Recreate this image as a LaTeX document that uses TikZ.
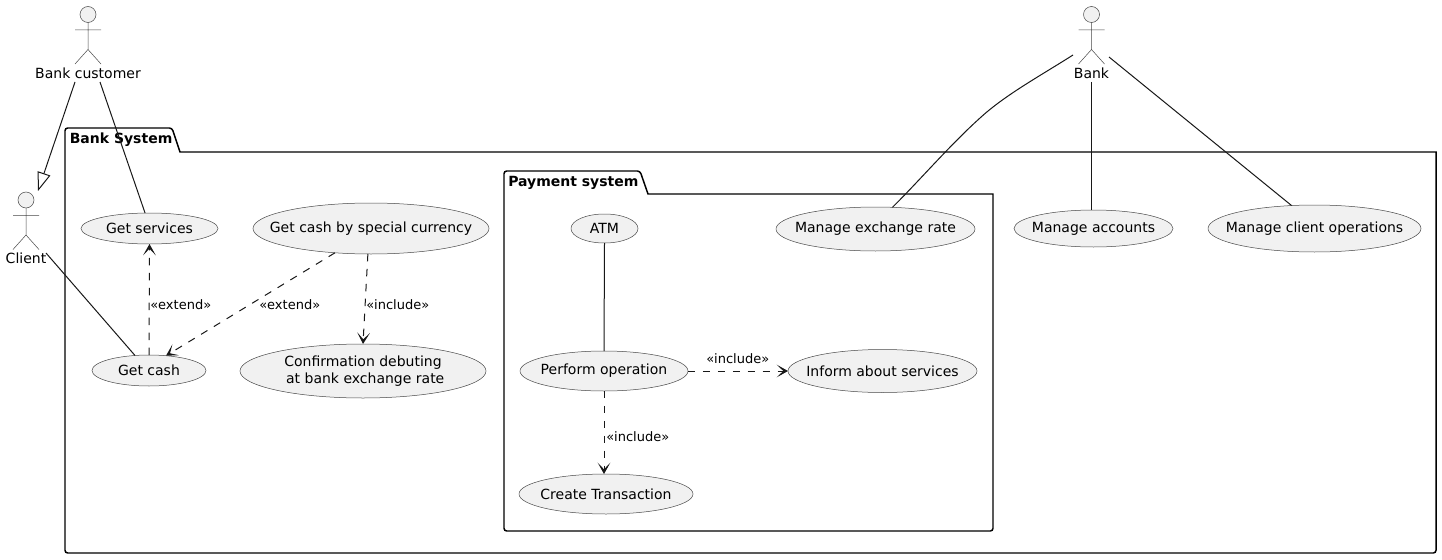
\documentclass[tikz,border=0pt]{standalone}
\usepackage{fontspec}
\setmainfont{DejaVu Sans}
\usetikzlibrary{shapes.geometric,arrows.meta}
\definecolor{ink}{HTML}{181818}
\definecolor{thinink}{HTML}{484848}
\definecolor{ufill}{HTML}{F1F1F1}
\tikzset{
  x=0.75pt,y=-0.75pt,
  ucase/.style 2 args={ellipse,draw=thinink,fill=ufill,line width=0.375pt,inner sep=-30pt,outer sep=0pt,
    minimum width=0.75pt*#1,minimum height=0.75pt*#2,align=center,
    font=\fontsize{10.5}{12.6}\selectfont,text=black},
  pkg/.style={draw=black,line width=1.1pt,fill=white},
  pkgname/.style={font=\fontsize{10.5}{12.3}\selectfont\bfseries,text=black,anchor=west,inner sep=0pt},
  actorname/.style={font=\fontsize{10.5}{12.3}\selectfont,text=black,inner sep=0pt},
  linktext/.style={font=\fontsize{9.75}{12}\selectfont,text=black,anchor=west,inner sep=0pt},
  actorhead/.style={circle,draw=thinink,fill=ufill,line width=0.375pt,inner sep=0pt,minimum size=12pt},
  actorbody/.style={draw=thinink,line width=0.375pt},
  link/.style={draw=ink,line width=0.75pt},
  dep/.style={link,dash pattern=on 5.6pt off 5.6pt,-{Stealth[length=8.5pt,width=9.5pt,inset=5pt]}},
  gen/.style={link,-{Triangle[open,length=14pt,width=10pt,line width=0.75pt,fill=white]}},
}
\newcommand{\actorfig}[3]{%
  \node[actorhead] (#1) at (#2,#3) {};
  \path[actorbody] (#2,#3+8) -- (#2,#3+35) (#2-13,#3+15.5) -- (#2+13,#3+15.5)
    (#2-13,#3+49.5) -- (#2,#3+35) -- (#2+13,#3+49.5);
}
\begin{document}
\begin{tikzpicture}
\useasboundingbox (0,0) rectangle (1442,560);
\fill[white] (0,0) rectangle (1442,560);

% packages
\path[pkg] (65,152) [rounded corners=2pt] -- (65,128) -- (172,128) [sharp corners] -- (180,152) -- (1436,152) [rounded corners=2pt] -- (1436,553) -- (65,553) [sharp corners] -- cycle;
\node[pkgname] (bankname) at (69.5,139.5) {Bank System};
\path[pkg] (504,194) [rounded corners=2pt] -- (504,171) -- (640,171) [sharp corners] -- (648,194) -- (993,194) [rounded corners=2pt] -- (993,531) -- (504,531) [sharp corners] -- cycle;
\node[pkgname] (payname) at (508,182.5) {Payment system};

% actors
\actorfig{custhead}{88}{14.5}
\node[actorname] (cust) at (88,73) {Bank customer};
\actorfig{clienthead}{26}{200}
\node[actorname] (client) at (26,258.5) {Client};
\actorfig{bankhead}{1091.5}{14.5}
\node[actorname] (bank) at (1091.5,73) {Bank};

\coordinate (custL) at (75,82);
\coordinate (custR) at (100,82);
\coordinate (clientTip) at (38,191);
\coordinate (clientR) at (46,253);
\coordinate (bankL) at (1073,55);
\coordinate (bankB) at (1091.5,82);
\coordinate (bankR) at (1109,57);

% use cases
\node[ucase={137}{31}] (services) at (149.5,228.5) {Get services};
\node[ucase={114}{31}] (cash) at (149,370.5) {Get cash};
\node[ucase={236}{51}] (special) at (371,228.5) {Get cash by special currency};
\node[ucase={246}{54}] (confirm) at (363,371) {Confirmation debuting\\ \ at bank exchange rate};
\node[ucase={67}{29}] (atm) at (604.5,228.5) {ATM};
\node[ucase={168}{40}] (perform) at (604,371) {Perform operation};
\node[ucase={174}{40}] (create) at (606,494) {Create Transaction};
\node[ucase={189}{43}] (inform) at (882.5,371) {Inform about services};
\node[ucase={199}{44}] (exchange) at (875.5,229) {Manage exchange rate};
\node[ucase={159}{37}] (accounts) at (1093.5,228.5) {Manage accounts};
\node[ucase={213}{47}] (clientops) at (1314.5,228.5) {Manage client operations};

% connectors
\path[gen] (custL) -- (clientTip);
\path[link] (custR) -- (services.106);
\path[link] (clientR) -- (cash.133);
\path[dep] (cash.north) -- (services.south);
\path[dep] (special.214) -- (cash.41);
\path[dep] (special.263) -- (confirm.north);
\path[link] (atm.south) -- (perform.north);
\path[dep] (perform.east) -- (inform.west);
\path[dep] (perform.south) -- (create.north -| perform.south);
\path[link] (bankL) .. controls (1040,76) and (1005,95) .. (980,118) .. controls (950,145) and (920,180) .. (exchange.52);
\path[link] (bankB) -- (accounts.north -| bankB);
\path[link] (bankR) -- (clientops.135);

% connector labels
\node[linktext] (l1) at (150,305) {«extend»};
\node[linktext] (l2) at (259,305) {«extend»};
\node[linktext] (l3) at (366,305) {«include»};
\node[linktext] (l4) at (706,359) {«include»};
\node[linktext] (l5) at (606,437) {«include»};
\end{tikzpicture}
\end{document}
